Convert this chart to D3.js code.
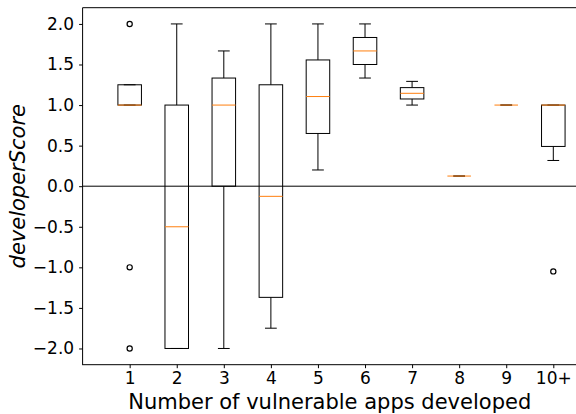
<!DOCTYPE html>
<html>
<head>
<meta charset="utf-8">
<script src="https://cdn.jsdelivr.net/npm/d3@7"></script>
<style>
	body { margin: 0; background: #fff; }
	svg { display: block; font-family: "DejaVu Sans", sans-serif; }
</style>
</head>
<body>
<div id="chart"></div>
<script>
var categories = ["1", "2", "3", "4", "5", "6", "7", "8", "9", "10+"];
var q1Values = [1.0, -2.0, 0.0, -1.37, 0.65, 1.5, 1.075, 0.125, 1.0, 0.49];
var medianValues = [1.0, -0.5, 1.0, -0.125, 1.105, 1.667, 1.145, 0.125, 1.0, 1.0];
var q3Values = [1.25, 1.0, 1.333, 1.25, 1.556, 1.833, 1.215, 0.125, 1.0, 1.0];
var whiskerLow = [1.0, -2.0, -2.0, -1.75, 0.2, 1.333, 1.0, 0.125, 1.0, 0.317];
var whiskerHigh = [1.25, 2.0, 1.667, 2.0, 2.0, 2.0, 1.292, 0.125, 1.0, 1.0];
var fliers = [[2.0, -1.0, -2.0], [], [], [], [], [], [], [], [], [-1.05]];
var yTicks = [-2.0, -1.5, -1.0, -0.5, 0.0, 0.5, 1.0, 1.5, 2.0];

var width = 576, height = 414;
var margin = {left: 82.6, top: 7.7, bottom: 364.7};

var svg = d3.select("#chart").append("svg")
	.attr("width", width)
	.attr("height", height);

// x runs 0..10.5, the right spine falls just past the page edge
var x = d3.scaleLinear().domain([0, 10.5]).range([margin.left, margin.left + 10.5 * 47.07]);
var y = d3.scaleLinear().domain([-2.2, 2.2]).range([margin.bottom, margin.top]);
var boxW = x(0.5) - x(0);
var capW = x(0.25) - x(0);

var canvas = svg.append("g").attr("class", "canvas");

// zero line
canvas.append("line")
	.attr("x1", x(0)).attr("x2", x(10.5))
	.attr("y1", y(0)).attr("y2", y(0))
	.attr("stroke", "#000").attr("stroke-width", 1);

var boxes = canvas.selectAll("g.box")
	.data(categories)
	.enter().append("g")
	.attr("class", "box");

boxes.each(function(c, i) {
	var g = d3.select(this);
	var cx = x(i + 1);
	// whiskers
	g.append("line")
		.attr("x1", cx).attr("x2", cx)
		.attr("y1", y(q3Values[i])).attr("y2", y(whiskerHigh[i]))
		.attr("stroke", "#000").attr("stroke-width", 1);
	g.append("line")
		.attr("x1", cx).attr("x2", cx)
		.attr("y1", y(q1Values[i])).attr("y2", y(whiskerLow[i]))
		.attr("stroke", "#000").attr("stroke-width", 1);
	[whiskerHigh[i], whiskerLow[i]].forEach(function(v) {
		g.append("line")
			.attr("x1", cx - capW / 2).attr("x2", cx + capW / 2)
			.attr("y1", y(v)).attr("y2", y(v))
			.attr("stroke", "#000").attr("stroke-width", 1);
	});
	// box
	g.append("rect")
		.attr("x", cx - boxW / 2)
		.attr("y", y(q3Values[i]))
		.attr("width", boxW)
		.attr("height", Math.max(0, y(q1Values[i]) - y(q3Values[i])))
		.attr("fill", "none")
		.attr("stroke", "#000").attr("stroke-width", 1);
	// median
	g.append("line")
		.attr("x1", cx - boxW / 2).attr("x2", cx + boxW / 2)
		.attr("y1", y(medianValues[i])).attr("y2", y(medianValues[i]))
		.attr("stroke", "#ff7f0e").attr("stroke-width", 1);
	// outliers
	g.selectAll("circle")
		.data(fliers[i])
		.enter().append("circle")
		.attr("cx", cx)
		.attr("cy", function(d) { return y(d); })
		.attr("r", 2.6)
		.attr("fill", "none")
		.attr("stroke", "#000").attr("stroke-width", 1.2);
});

// axes
var yAxis = d3.axisLeft(y)
	.tickValues(yTicks)
	.tickSize(3.5)
	.tickPadding(5)
	.tickFormat(function(d) { return d3.format(".1f")(d).replace("-", "\u2212"); });
var gy = svg.append("g")
	.attr("transform", "translate(" + margin.left + ",0)")
	.call(yAxis);
gy.select(".domain").attr("d", "M0," + margin.top + "V" + margin.bottom);

var xAxis = d3.axisBottom(x)
	.tickValues(d3.range(1, 11))
	.tickSize(3.5)
	.tickPadding(4)
	.tickFormat(function(d) { return categories[d - 1]; });
var gx = svg.append("g")
	.attr("transform", "translate(0," + margin.bottom + ")")
	.call(xAxis);
gx.select(".domain").attr("d", "M" + (margin.left - 0.5) + ",0H" + x(10.5));

svg.selectAll(".tick text")
	.attr("font-family", "DejaVu Sans")
	.attr("font-size", 17)
	.attr("fill", "#000");
gx.selectAll(".tick text").attr("dy", null).attr("y", 19.3);
svg.selectAll(".tick line, .domain").attr("stroke", "#000");

// top spine
svg.append("line")
	.attr("x1", margin.left).attr("x2", x(10.5))
	.attr("y1", margin.top).attr("y2", margin.top)
	.attr("stroke", "#000").attr("stroke-width", 1);

// labels
svg.append("text")
	.attr("x", (x(0) + x(10.5)) / 2)
	.attr("y", 409)
	.attr("text-anchor", "middle")
	.attr("font-size", 21)
	.text("Number of vulnerable apps developed");

svg.append("text")
	.attr("transform", "translate(25," + ((margin.top + margin.bottom) / 2) + ") rotate(-90)")
	.attr("text-anchor", "middle")
	.attr("font-size", 21)
	.attr("font-style", "italic")
	.text("developerScore");
</script>
</body>
</html>
